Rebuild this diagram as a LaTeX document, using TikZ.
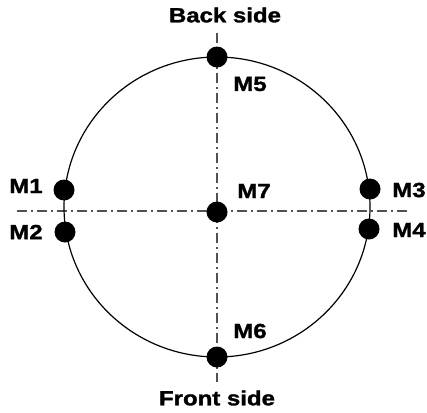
\documentclass[tikz,border=0pt]{standalone}
\usepackage{fontspec}
\usepackage{graphicx}
\setmainfont{Liberation Sans}
\newfontfamily\heavyfont{Liberation Sans}[BoldFeatures={FakeBold=1.3}]
\newcommand{\widetxt}[1]{\scalebox{1.17}[1]{#1}}
\begin{document}
\begin{tikzpicture}[x=1pt,y=-1pt,
  dot/.style={circle,fill=black,inner sep=0pt,minimum size=21pt},
  lbl/.style={inner sep=0pt,font=\heavyfont\fontsize{20.5}{22}\selectfont\bfseries},
  axis/.style={draw=black!68,line width=1.3pt,dash pattern=on 10pt off 4pt on 2pt off 4pt},
  rim/.style={draw=black,line width=1.2pt}]
\useasboundingbox (0,0) rectangle (427,412);
\coordinate (hl) at (17,211);
\coordinate (hr) at (408,211);
\coordinate (vt) at (217,33);
\coordinate (vb) at (217,382);
\draw[axis] (hl) -- (hr);
\draw[axis] (vt) -- (vb);
\draw[rim] (217,207) ellipse [x radius=153, y radius=150];
\node[dot] (m1) at (64,190) {};
\node[dot] (m2) at (65,232) {};
\node[dot] (m3) at (370,189) {};
\node[dot] (m4) at (369,229) {};
\node[dot] (m5) at (217,57) {};
\node[dot] (m6) at (217,357) {};
\node[dot] (m7) at (217,212) {};
\node[lbl] (tback) at (225,15) {\widetxt{Back side}};
\node[lbl] (tfront) at (217,398) {\widetxt{Front side}};
\node[lbl] (l1) at (26,186) {\widetxt{M1}};
\node[lbl] (l2) at (26,232) {\widetxt{M2}};
\node[lbl] (l3) at (409,190) {\widetxt{M3}};
\node[lbl] (l4) at (409,230) {\widetxt{M4}};
\node[lbl] (l5) at (250,84) {\widetxt{M5}};
\node[lbl] (l6) at (250,331) {\widetxt{M6}};
\node[lbl] (l7) at (254,191) {\widetxt{M7}};
\end{tikzpicture}
\end{document}
